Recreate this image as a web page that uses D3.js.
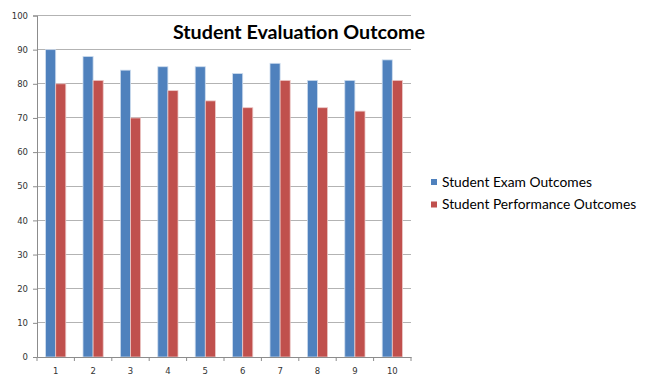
<!DOCTYPE html>
<html><head><meta charset="utf-8">
<script src="https://cdn.jsdelivr.net/npm/d3@7"></script>
<style>body{margin:0;background:#fff}svg{display:block}</style>
</head><body>
<script>
const categories = ["1","2","3","4","5","6","7","8","9","10"];
const seriesNames = ["Student Exam Outcomes","Student Performance Outcomes"];
const examValues = [90,88,84,85,85,83,86,81,81,87];
const performanceValues = [80,81,70,78,75,73,81,73,72,81];
const yTicks = [0,10,20,30,40,50,60,70,80,90,100];
const colors = ["#4F81BD","#C0504D"];

const W=649,H=377;
const svg=d3.select("body").append("svg").attr("width",W).attr("height",H);
const x0=37,x1=411,yTop=15.5,yBot=357;
const x=d3.scaleBand().domain(categories).range([x0,x1]).paddingInner(0).paddingOuter(0);
const xs=d3.scaleBand().domain([0,1]).range([0,x.bandwidth()]).paddingInner(0).paddingOuter(0.85);
const y=d3.scaleLinear().domain([0,100]).range([yBot,yTop]);

// gridlines
svg.append("g").selectAll("line").data(yTicks.filter(d=>d>0)).join("line")
 .attr("x1",x0).attr("x2",x1).attr("y1",d=>y(d)).attr("y2",d=>y(d))
 .attr("stroke","#b3b3b3").attr("stroke-width",1).attr("shape-rendering","crispEdges");

const data=[examValues,performanceValues];
data.forEach((vals,si)=>{
  svg.append("g").selectAll("rect").data(vals).join("rect")
   .attr("x",(d,i)=>x(categories[i])+xs(si))
   .attr("y",d=>y(d)).attr("width",xs.bandwidth()).attr("height",d=>yBot-y(d))
   .attr("fill",colors[si]).attr("stroke",si?"#ecc9c8":"#cddcee").attr("stroke-width",0.8);
});

// y axis
const ya=svg.append("g").attr("transform",`translate(${x0},0)`)
 .call(d3.axisLeft(y).tickValues(yTicks).tickSize(4).tickPadding(5));
ya.select(".domain").attr("stroke","#8c8c8c");
ya.selectAll(".tick line").attr("stroke","#8c8c8c");
ya.selectAll("text").attr("font-family","'DejaVu Sans',sans-serif").attr("font-size","8.5px").attr("fill","#333");

// x axis
const xa=svg.append("g").attr("transform",`translate(0,${yBot})`)
 .call(d3.axisBottom(x).tickSize(0).tickPadding(11));
xa.select(".domain").attr("stroke","#8c8c8c");
xa.selectAll("text").attr("font-family","'DejaVu Sans',sans-serif").attr("font-size","8.5px").attr("fill","#333");
svg.append("g").selectAll("line").data(categories.concat(["end"])).join("line")
 .attr("x1",(d,i)=>x0+i*x.bandwidth()).attr("x2",(d,i)=>x0+i*x.bandwidth())
 .attr("y1",yBot).attr("y2",yBot+4).attr("stroke","#8c8c8c");

// title
svg.append("text").attr("x",299).attr("y",39).attr("text-anchor","middle")
 .attr("font-family","Lato, 'Open Sans', sans-serif").attr("font-weight","bold")
 .attr("font-size","19.7px").attr("fill","#000").text("Student Evaluation Outcome");

// legend
const lg=svg.append("g");
seriesNames.forEach((n,i)=>{
  const ly=182+i*22.5;
  lg.append("rect").attr("x",431).attr("y",ly-3).attr("width",6).attr("height",6).attr("fill",colors[i]);
  lg.append("text").attr("x",442).attr("y",ly+4.7).attr("font-family","Lato, 'Open Sans', sans-serif")
   .attr("font-size","13.8px").attr("fill","#000").text(n);
});
</script>
</body></html>
